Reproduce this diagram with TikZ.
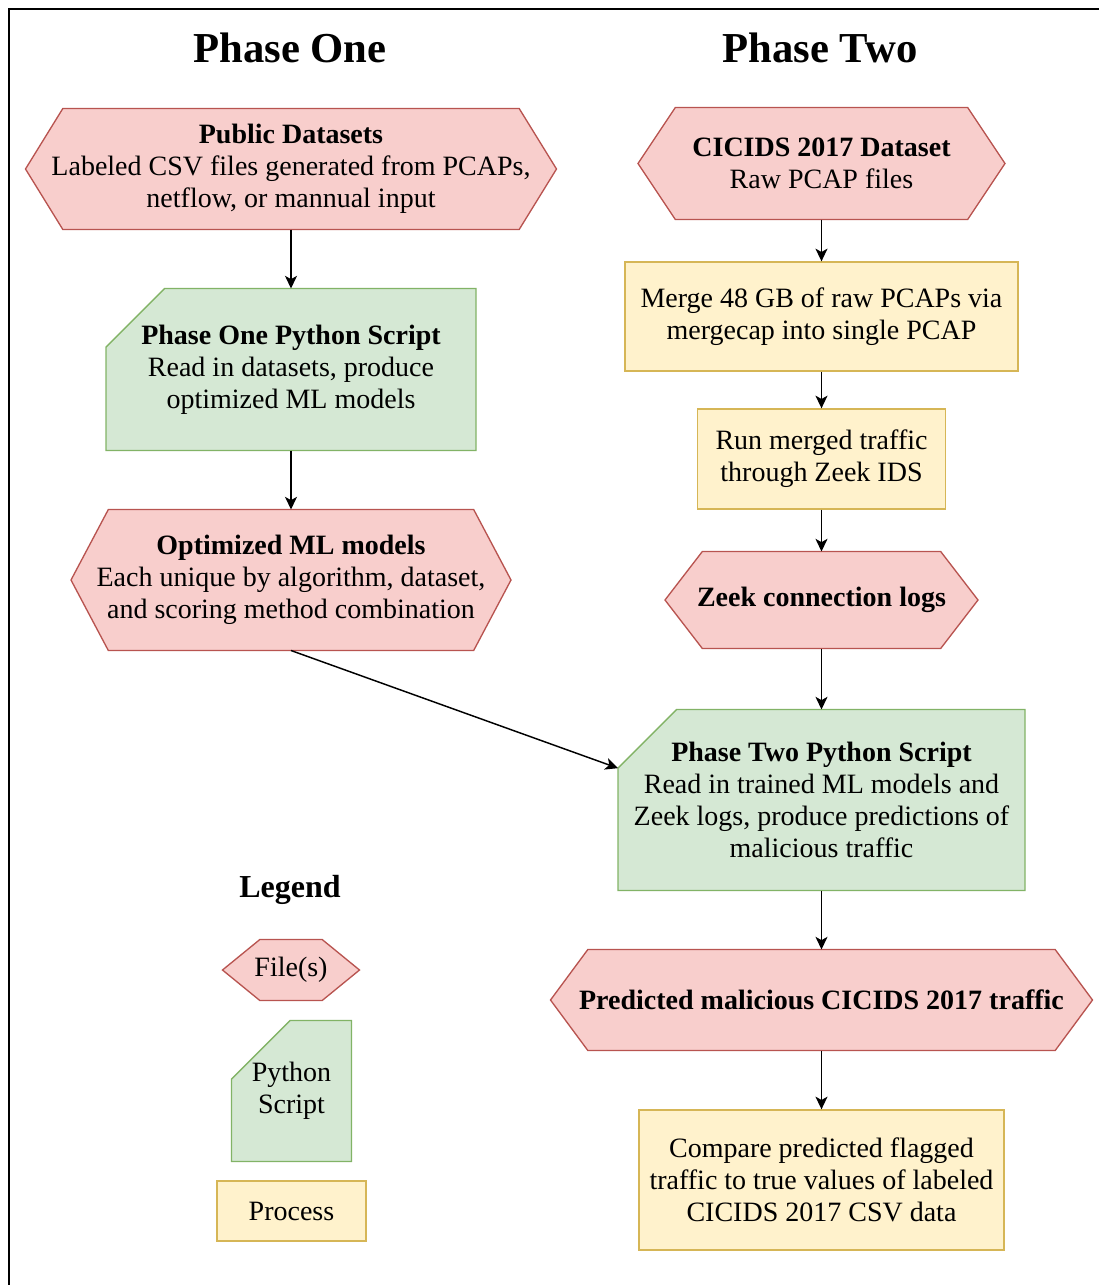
\documentclass[tikz,border=0pt]{standalone}
\usepackage{fontspec}
\setmainfont{Liberation Serif}
\usetikzlibrary{arrows.meta,backgrounds}

\definecolor{filefill}{HTML}{F8CECC}
\definecolor{fileline}{HTML}{B85450}
\definecolor{scriptfill}{HTML}{D5E8D4}
\definecolor{scriptline}{HTML}{82B366}
\definecolor{procfill}{HTML}{FFF2CC}
\definecolor{procline}{HTML}{D6B656}

\tikzset{every picture/.style={line width=0.75pt}}
\tikzset{
  wh/.style 2 args={minimum width=#1*0.75pt, minimum height=#2*0.75pt},
  boxtext/.style={inner sep=0pt, align=center, font=\fontsize{21}{24}\selectfont},
  procbox/.style={boxtext, draw=procline, fill=procfill, line width=1pt},
  filepath/.style={draw=fileline, fill=filefill, line width=1pt},
  scriptpath/.style={draw=scriptline, fill=scriptfill, line width=1pt},
  arr/.style={-{Stealth[length=9.5pt,width=9pt,inset=2.5pt]}, line width=1.1pt},
  heading/.style={font=\fontsize{32}{36}\selectfont\bfseries},
}

\begin{document}
\begin{tikzpicture}[x=0.75pt,y=0.75pt,yscale=-1,xscale=1]
\useasboundingbox (0,0) rectangle (1099,1285);

%Frame
\draw [line width=1.5pt] (9,1300) -- (9,9) -- (1110,9) ;

% Text Node
\node [heading] (titleone) at (290,48) {Phase One};
% Text Node
\node [heading] (titletwo) at (820,48) {Phase Two};
% Text Node
\node [font=\fontsize{24}{28}\selectfont\bfseries] (legend) at (290,890) {Legend};

%Phase one column
\node [boxtext, wh={530}{120}] (pub) at (291,169) {\textbf{Public Datasets}\\Labeled CSV files generated from PCAPs,\\netflow, or mannual input};
\node [boxtext, wh={369}{161}] (scrone) at (291,369.5) {\textbf{Phase One Python Script}\\Read in datasets, produce\\optimized ML models};
\node [boxtext, wh={439}{140}] (opt) at (291,580) {\textbf{Optimized ML models}\\Each unique by algorithm, dataset,\\and scoring method combination};

%Phase two column
\node [boxtext, wh={366}{111}] (cic) at (821.5,163.5) {\textbf{CICIDS 2017 Dataset}\\Raw PCAP files};
\node [procbox, wh={393}{109}] (merge) at (821.5,316.5) {Merge 48 GB of raw PCAPs via\\mergecap into single PCAP};
\node [procbox, wh={248}{100}] (run) at (821.5,459) {Run merged traffic\\through Zeek IDS};
\node [boxtext, wh={312}{96}] (zeek) at (821.5,600) {\textbf{Zeek connection logs}};
\node [boxtext, wh={406}{180}] (scrtwo) at (821.5,800) {\textbf{Phase Two Python Script}\\Read in trained ML models and\\Zeek logs, produce predictions of\\malicious traffic};
\node [boxtext, wh={541}{100}] (pred) at (821.5,1000) {\textbf{Predicted malicious CICIDS 2017 traffic}};
\node [procbox, wh={365}{140}] (compare) at (821.5,1180) {Compare predicted flagged\\traffic to true values of labeled\\CICIDS 2017 CSV data};

%Legend
\node [boxtext, wh={136}{60}] (legfile) at (291,970) {File(s)};
\node [boxtext, wh={119}{140}] (legscript) at (291.5,1091) {Python\\Script};
\node [procbox, wh={149}{60}] (legproc) at (291.5,1211) {Process};

%Shapes behind the texts
\begin{scope}[on background layer]
\foreach \n in {pub,opt,cic,zeek,pred,legfile}
  \draw [filepath] ([xshift=28pt]\n.north west) -- ([xshift=-28pt]\n.north east) -- (\n.east)
    -- ([xshift=-28pt]\n.south east) -- ([xshift=28pt]\n.south west) -- (\n.west) -- cycle ;
\foreach \n in {scrone,scrtwo,legscript}
  \draw [scriptpath] ([xshift=44pt]\n.north west) -- (\n.north east) -- (\n.south east)
    -- (\n.south west) -- ([yshift=44pt]\n.north west) -- cycle ;
\end{scope}

%Arrows
\coordinate (scrtwocut) at ([yshift=44pt]scrtwo.north west);
\draw [arr] (pub) -- (scrone) ;
\draw [arr] (scrone) -- (opt) ;
\draw [arr] (opt.south) -- (scrtwocut) ;
\draw [arr] (cic) -- (merge) ;
\draw [arr] (merge) -- (run) ;
\draw [arr] (run) -- (zeek) ;
\draw [arr] (zeek) -- (scrtwo) ;
\draw [arr] (scrtwo) -- (pred) ;
\draw [arr] (pred) -- (compare) ;

\end{tikzpicture}
\end{document}
